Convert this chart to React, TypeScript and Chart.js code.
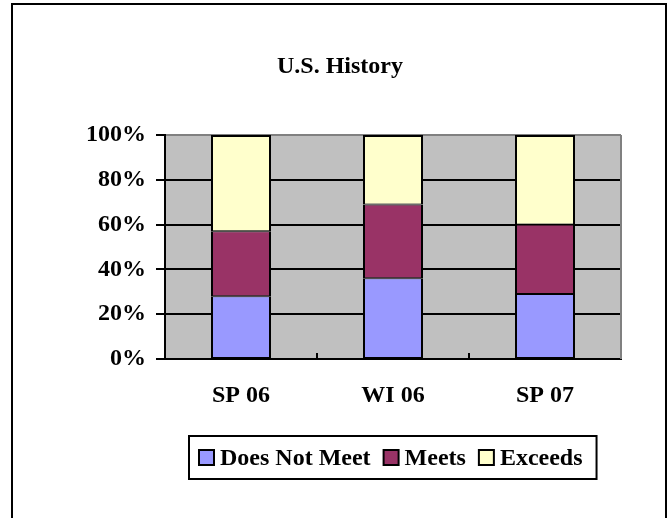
import React, { useEffect, useRef } from "react";
import { Chart, registerables } from "chart.js";

Chart.register(...registerables);

const TITLE = "U.S. History";
const categories = ["SP 06", "WI 06", "SP 07"];
const seriesNames = ["Does Not Meet", "Meets", "Exceeds"];
const doesNotMeet = [28, 36, 29];
const meets = [29, 33, 31];
const exceeds = [43, 31, 40];
const yTicks = [0, 20, 40, 60, 80, 100];

const seriesColors = ["#9999FF", "#993366", "#FFFFCC"];
const FONT = '"Liberation Serif", "Times New Roman", serif';

const plotBg = {
  id: "plotBg",
  beforeDraw(chart: any) {
    const { ctx, chartArea: ca } = chart;
    ctx.save();
    ctx.fillStyle = "#C0C0C0";
    ctx.fillRect(ca.left, ca.top, ca.right - ca.left, ca.bottom - ca.top);
    ctx.restore();
  },
  beforeDatasetsDraw(chart: any) {
    const { ctx, chartArea: ca } = chart;
    ctx.save();
    ctx.strokeStyle = "#808080";
    ctx.lineWidth = 2;
    ctx.beginPath();
    ctx.moveTo(ca.right, ca.top);
    ctx.lineTo(ca.right, ca.bottom);
    ctx.stroke();
    ctx.restore();
  },
};

const boxLegend = {
  id: "boxLegend",
  afterDraw(chart: any) {
    const { ctx, chartArea: ca } = chart;
    ctx.save();
    ctx.font = `bold 24px ${FONT}`;
    const sq = 17;
    const gapText = 5;
    const gapItem = 12;
    const padL = 9;
    const padR = 14;
    const h = 43;
    const items = chart.data.datasets.map((ds: any) => ({
      label: ds.label,
      color: ds.backgroundColor,
      w: ctx.measureText(ds.label).width,
    }));
    let total = padL + padR;
    items.forEach((it: any, i: number) => {
      total += sq + gapText + it.w + (i ? gapItem : 0);
    });
    const cx = (ca.left + ca.right) / 2;
    const cy = ca.bottom + 98.5;
    const left = Math.round(cx - total / 2);
    const top = Math.round(cy - h / 2);
    ctx.fillStyle = "#fff";
    ctx.fillRect(left, top, total, h);
    ctx.lineWidth = 2;
    ctx.strokeStyle = "#000";
    ctx.strokeRect(left, top, total, h);
    let x = left + padL;
    ctx.textBaseline = "middle";
    ctx.textAlign = "left";
    items.forEach((it: any, i: number) => {
      if (i) x += gapItem;
      const sy = Math.round(cy - sq / 2);
      ctx.fillStyle = it.color;
      ctx.fillRect(x + 1, sy + 1, sq - 2, sq - 2);
      ctx.strokeStyle = "#000";
      ctx.lineWidth = 2;
      ctx.strokeRect(x + 1, sy + 1, sq - 2, sq - 2);
      x += sq + gapText;
      ctx.fillStyle = "#000";
      ctx.fillText(it.label, x, cy + 1);
      x += it.w;
    });
    ctx.restore();
  },
};

export default function App() {
  const ref = useRef<HTMLCanvasElement | null>(null);

  useEffect(() => {
    if (!ref.current) return;
    const font = { family: FONT, size: 24, weight: "bold" as const };
    const inner = { left: 2, right: 2, top: 1, bottom: 1 };
    const topOne = { left: 2, right: 2, top: 2, bottom: 1 };
    const values = [doesNotMeet, meets, exceeds];
    const chart = new Chart(ref.current, {
      type: "bar",
      data: {
        labels: categories,
        datasets: seriesNames.map((name, i) => ({
          label: name,
          data: values[i],
          backgroundColor: seriesColors[i],
          borderColor: "#000",
          borderWidth: i === seriesNames.length - 1 ? topOne : inner,
          borderSkipped: false,
          inflateAmount: 0,
          barThickness: 60,
        })),
      },
      options: {
        animation: false,
        responsive: false,
        maintainAspectRatio: false,
        layout: { padding: { left: 11, right: 0, top: 0, bottom: 99 } },
        plugins: {
          legend: { display: false },
          tooltip: { enabled: false },
          title: {
            display: true,
            text: TITLE,
            color: "#000",
            font,
            padding: { top: 52, bottom: 54.2 },
          },
        },
        scales: {
          x: {
            stacked: true,
            offset: true,
            grid: {
              display: true,
              offset: true,
              drawOnChartArea: false,
              drawTicks: true,
              tickLength: -6,
              color: "#000",
              lineWidth: 2,
            },
            border: { display: true, color: "#000", width: 2 },
            ticks: { color: "#000", font, padding: 28, maxRotation: 0, autoSkip: false },
            afterFit: (s: any) => {
              s.height = 60;
            },
          },
          y: {
            stacked: true,
            min: 0,
            max: 100,
            afterBuildTicks: (s: any) => {
              s.ticks = yTicks.map((v) => ({ value: v }));
            },
            ticks: {
              color: "#000",
              font,
              padding: 10,
              callback: (v: any) => `${v}%`,
            },
            grid: {
              color: (c: any) => (c.tick && c.tick.value === 100 ? "#808080" : "#000"),
              tickColor: "#000",
              lineWidth: 2,
              tickLength: 9,
            },
            border: { display: true, color: "#000", width: 2 },
            afterFit: (s: any) => {
              s.width = 154;
            },
          },
          y2: {
            type: "linear",
            position: "right",
            display: true,
            grid: { display: false, drawTicks: false },
            ticks: { display: false },
            border: { display: false },
            afterFit: (s: any) => {
              s.width = 48;
            },
          },
        },
      } as any,
      plugins: [plotBg, boxLegend],
    });
    return () => chart.destroy();
  }, []);

  return (
    <div style={{ position: "fixed", left: 0, top: 0, width: 669, height: 518, overflow: "hidden", background: "#fff" }}>
      <canvas ref={ref} width={669} height={518} style={{ position: "absolute", left: 0, top: 0 }} />
      <div
        style={{
          position: "absolute",
          left: 11,
          top: 3,
          width: 656,
          height: 700,
          boxSizing: "border-box",
          border: "2px solid #000",
          pointerEvents: "none",
        }}
      />
    </div>
  );
}
